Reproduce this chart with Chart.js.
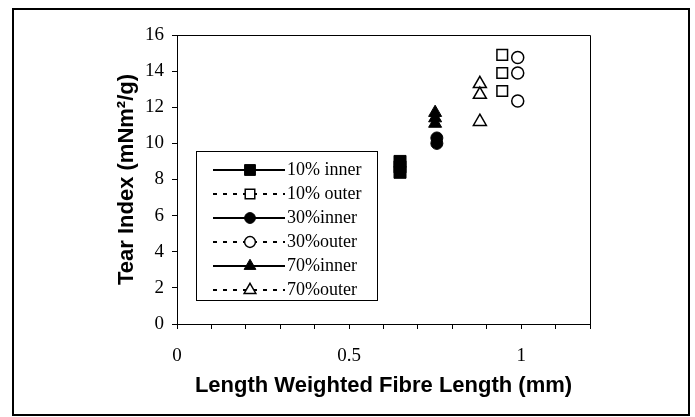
<!DOCTYPE html>
<html>
<head>
<meta charset="utf-8">
<script src="https://cdn.jsdelivr.net/npm/chart.js@4.4.1/dist/chart.umd.min.js"></script>
<style>
  html, body { margin: 0; padding: 0; background: #fff; }
  #wrap { width: 695px; height: 417px; }
</style>
</head>
<body>
<div id="wrap"><canvas id="chart" width="695" height="417"></canvas></div>
<script>
// fibre length (mm) / tear index (mNm2/g)
const inner10X = [0.648, 0.648, 0.648];
const inner10Y = [9.0, 8.7, 8.4];
const outer10X = [0.945, 0.945, 0.945];
const outer10Y = [14.9, 13.9, 12.9];
const inner30X = [0.755, 0.755];
const inner30Y = [10.3, 10.0];
const outer30X = [0.99, 0.99, 0.99];
const outer30Y = [14.75, 13.9, 12.35];
const inner70X = [0.75, 0.75, 0.75];
const inner70Y = [11.7, 11.4, 11.1];
const outer70X = [0.88, 0.88, 0.88];
const outer70Y = [13.3, 12.7, 11.2];

const seriesLabels = ['10% inner', '10% outer', '30%inner', '30%outer', '70%inner', '70%outer'];
const xTickLabels = [0, 0.5, 1];

const pts = (xs, ys) => xs.map((x, i) => ({ x: x, y: ys[i] }));

function series(label, data, style, filled, r, dash) {
    return {
        label: label,
        data: data,
        pointStyle: style,
        pointRadius: r,
        pointHoverRadius: r,
        backgroundColor: filled ? '#000' : '#fff',
        borderColor: '#000',
        borderWidth: filled ? 1 : 1.5,
        showLine: false,
        legendDash: dash
    };
}

// figure frame + plot box
const frames = {
    id: 'frames',
    beforeDraw(chart) {
        const ctx = chart.ctx;
        ctx.save();
        ctx.fillStyle = '#fff';
        ctx.fillRect(0, 0, chart.width, chart.height);
        ctx.strokeStyle = '#000';
        ctx.lineWidth = 2;
        ctx.strokeRect(13, 9, 676, 406);
        ctx.restore();
    },
    afterDraw(chart) {
        const a = chart.chartArea;
        const ctx = chart.ctx;
        ctx.save();
        ctx.strokeStyle = '#000';
        ctx.lineWidth = 1;
        ctx.beginPath();
        ctx.moveTo(a.left, a.top + 0.5);
        ctx.lineTo(a.right + 0.5, a.top + 0.5);
        ctx.lineTo(a.right + 0.5, a.bottom);
        ctx.stroke();
        ctx.restore();
    }
};

// boxed legend with line + marker samples, like the original
const boxLegend = {
    id: 'boxLegend',
    afterDatasetsDraw(chart) {
        const ctx = chart.ctx;
        const left = 196, top = 151, w = 181, h = 149, rowH = 24;
        ctx.save();
        ctx.fillStyle = '#fff';
        ctx.fillRect(left, top, w, h);
        ctx.strokeStyle = '#000';
        ctx.lineWidth = 1;
        ctx.strokeRect(left + 0.5, top + 0.5, w, h);
        ctx.font = '18px "Liberation Serif"';
        ctx.textBaseline = 'middle';
        chart.data.datasets.forEach((ds, i) => {
            const y = Math.round(top + 19 + i * rowH);
            ctx.strokeStyle = '#000';
            ctx.lineWidth = 2;
            ctx.setLineDash(ds.legendDash);
            ctx.beginPath();
            ctx.moveTo(213, y);
            ctx.lineTo(285, y);
            ctx.stroke();
            ctx.setLineDash([]);
            ctx.fillStyle = ds.backgroundColor;
            ctx.lineWidth = ds.borderWidth;
            Chart.helpers.drawPoint(ctx, {
                pointStyle: ds.pointStyle,
                radius: ds.pointRadius * 0.9,
                borderWidth: ds.borderWidth,
                rotation: 0
            }, 250, y);
            ctx.fillStyle = '#000';
            ctx.fillText(ds.label, 287, y);
        });
        ctx.restore();
    }
};

new Chart(document.getElementById('chart'), {
    type: 'scatter',
    data: {
        datasets: [
            series(seriesLabels[0], pts(inner10X, inner10Y), 'rect', true, 8.5, []),
            series(seriesLabels[1], pts(outer10X, outer10Y), 'rect', false, 7.5, [4, 6]),
            series(seriesLabels[2], pts(inner30X, inner30Y), 'circle', true, 6, []),
            series(seriesLabels[3], pts(outer30X, outer30Y), 'circle', false, 6, [4, 6]),
            series(seriesLabels[4], pts(inner70X, inner70Y), 'triangle', true, 7.5, []),
            series(seriesLabels[5], pts(outer70X, outer70Y), 'triangle', false, 7.5, [4, 6])
        ]
    },
    options: {
        responsive: false,
        animation: false,
        layout: { padding: { left: 0, right: 105, top: 35, bottom: 0 } },
        plugins: {
            legend: { display: false },
            tooltip: { enabled: false }
        },
        scales: {
            x: {
                type: 'linear',
                min: 0,
                max: 1.2,
                afterFit: s => { s.height = 93; },
                ticks: {
                    stepSize: 0.1,
                    autoSkip: false,
                    maxRotation: 0,
                    color: '#000',
                    padding: 16,
                    font: { family: 'Liberation Serif', size: 19 },
                    callback: v => {
                        const t = xTickLabels.find(l => Math.abs(l - v) < 1e-6);
                        return t === undefined ? '' : String(t);
                    }
                },
                grid: { drawOnChartArea: false, tickLength: 5, color: '#000' },
                border: { color: '#000', width: 1 },
                title: {
                    display: true,
                    text: 'Length Weighted Fibre Length (mm)',
                    color: '#000',
                    font: { family: 'Liberation Sans', size: 22, weight: 'bold' },
                    padding: { top: 0, bottom: 18 }
                }
            },
            y: {
                min: 0,
                max: 16,
                afterFit: s => { s.width = 177; },
                ticks: {
                    stepSize: 2,
                    color: '#000',
                    padding: 8,
                    font: { family: 'Liberation Serif', size: 19 }
                },
                grid: { drawOnChartArea: false, tickLength: 5, color: '#000' },
                border: { color: '#000', width: 1 },
                title: {
                    display: true,
                    text: 'Tear Index (mNm²/g)',
                    color: '#000',
                    font: { family: 'Liberation Sans', size: 22, weight: 'bold' },
                    padding: { top: 114, bottom: 0 }
                }
            }
        }
    },
    plugins: [frames, boxLegend]
});
</script>
</body>
</html>
